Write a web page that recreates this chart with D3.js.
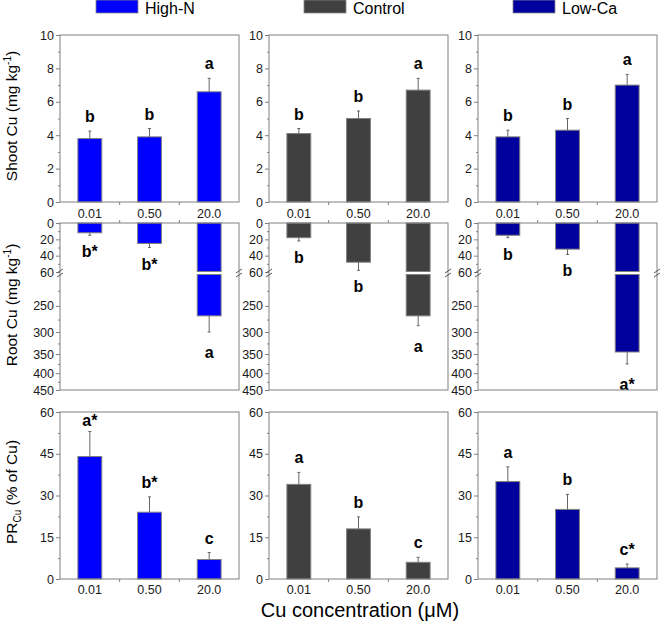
<!DOCTYPE html>
<html>
<head>
<meta charset="utf-8">
<script src="https://cdn.jsdelivr.net/npm/d3@7/dist/d3.min.js"></script>
<style>
  body { margin: 0; background: #fff; }
  svg { display: block; font-family: "Liberation Sans", Arial, sans-serif; }
</style>
</head>
<body>
<svg id="chart" width="660" height="628"></svg>
<script>
// ---------- data ----------
const concentrations = ["0.01", "0.50", "20.0"];
const treatments = ["High-N", "Control", "Low-Ca"];
const treatmentColors = ["#0000ff", "#404040", "#00009c"];

const shootMean = [[3.8, 3.9, 6.6], [4.1, 5.0, 6.7], [3.9, 4.3, 7.0]];
const shootErr  = [[0.45, 0.5, 0.8], [0.3, 0.45, 0.7], [0.4, 0.7, 0.64]];
const shootLetters = [["b", "b", "a"], ["b", "b", "a"], ["b", "b", "a"]];

const rootMean = [[12, 25, 268], [18, 48, 268], [15, 32, 345]];
const rootErr  = [[3, 5, 32], [4, 10, 19], [3, 6.5, 30]];
const rootLetters = [["b*", "b*", "a"], ["b", "b", "a"], ["b", "b", "a*"]];

const prMean = [[44, 24, 7], [34, 18, 6], [35, 25, 4]];
const prErr  = [[9, 5.5, 2.5], [4.3, 4.3, 1.8], [5.3, 5.4, 1.4]];
const prLetters = [["a*", "b*", "c"], ["a", "b", "c"], ["a", "b", "c*"]];

const shootTicks = [0, 2, 4, 6, 8, 10];
const rootTicksUpper = [0, 20, 40, 60];
const rootTicksLower = [250, 300, 350, 400, 450];
const prTicks = [0, 15, 30, 45, 60];

// ---------- layout ----------
const svg = d3.select("#chart");
const panelLeft = [60, 269, 478];
const panelW = 179;
const shootTop = 35, shootBottom = 202;
const rootTop = 223, rootBreakA = 272, rootBreakB = 274, rootBottom = 390;
const prTop = 412, prBottom = 579;
const frameColor = "#808080";
const textColor = "#1a1a1a";
const tickFont = 12.5;

function band(i) {
  return d3.scaleBand().domain(concentrations)
    .range([panelLeft[i], panelLeft[i] + panelW]).paddingInner(0.6).paddingOuter(0.3);
}

function styleAxis(g) {
  g.select(".domain").remove();
  g.selectAll("line").attr("stroke", frameColor);
  g.selectAll("text").attr("fill", textColor).attr("font-size", tickFont);
}

function frame(x, y0, y1) {
  svg.append("rect").attr("x", x).attr("y", y0).attr("width", panelW).attr("height", y1 - y0)
    .attr("fill", "none").attr("stroke", frameColor).attr("stroke-width", 1);
}

function drawXTicks(i, xs, yPos, dir, withLabels, pad) {
  const centers = concentrations.map(c => xs(c) + xs.bandwidth() / 2);
  const mids = [(centers[0] + centers[1]) / 2, (centers[1] + centers[2]) / 2];
  svg.selectAll(null).data(mids).enter().append("line")
    .attr("x1", d => d).attr("x2", d => d).attr("y1", yPos).attr("y2", yPos + dir * 3)
    .attr("stroke", frameColor);
  if (withLabels) {
    const ax = svg.append("g").attr("transform", `translate(0,${yPos})`)
      .call(d3.axisBottom(xs).tickSize(0).tickPadding(pad));
    styleAxis(ax);
  }
}

function errorBar(x, y0, y1) {
  svg.append("line").attr("x1", x).attr("x2", x).attr("y1", y0).attr("y2", y1)
    .attr("stroke", "#666").attr("stroke-width", 1);
  svg.append("line").attr("x1", x - 1.5).attr("x2", x + 1.5).attr("y1", y1).attr("y2", y1)
    .attr("stroke", "#666").attr("stroke-width", 1);
}

function letter(x, y, t) {
  svg.append("text").attr("x", x).attr("y", y).attr("text-anchor", "middle")
    .attr("font-size", 16).attr("font-weight", "bold").attr("fill", "#000").text(t);
}

// ---------- legend ----------
const legendX = [96, 304, 513];
treatments.forEach((t, i) => {
  svg.append("rect").attr("x", legendX[i]).attr("y", 0).attr("width", 42).attr("height", 13)
    .attr("fill", treatmentColors[i]).attr("stroke", "#888").attr("stroke-width", 0.8);
  svg.append("text").attr("x", legendX[i] + 49).attr("y", 14).attr("font-size", 16)
    .attr("fill", "#000").text(t);
});

// ---------- panels ----------
treatments.forEach((t, i) => {
  const xs = band(i);
  const left = panelLeft[i];
  const bw = xs.bandwidth();
  const color = treatmentColors[i];

  // ---- Shoot ----
  const ys = d3.scaleLinear().domain([0, 10]).range([shootBottom, shootTop]);
  const ax1 = svg.append("g").attr("transform", `translate(${left},0)`)
    .call(d3.axisLeft(ys).tickValues(shootTicks).tickSize(4).tickPadding(2));
  styleAxis(ax1);
  const ax1m = svg.append("g").attr("transform", `translate(${left},0)`)
    .call(d3.axisLeft(ys).tickValues([1, 3, 5, 7, 9]).tickSize(2).tickFormat(""));
  styleAxis(ax1m);
  concentrations.forEach((c, j) => {
    const x = xs(c), cx = x + bw / 2;
    svg.append("rect").attr("x", x).attr("y", ys(shootMean[i][j])).attr("width", bw)
      .attr("height", ys(0) - ys(shootMean[i][j])).attr("fill", color)
      .attr("stroke", "#808080").attr("stroke-width", 1);
    const eTop = ys(shootMean[i][j] + shootErr[i][j]);
    errorBar(cx, ys(shootMean[i][j]), eTop);
    letter(cx, eTop - 9, shootLetters[i][j]);
  });
  frame(left, shootTop, shootBottom);
  drawXTicks(i, xs, shootBottom, 1, true, 7);

  // ---- Root (broken axis: linear upper, log lower) ----
  const yrU = d3.scaleLinear().domain([0, 60]).range([rootTop, rootBreakA]);
  const yrL = d3.scaleLog().domain([200, 450]).range([rootBreakB, rootBottom]);
  const yr = v => v <= 60 ? yrU(v) : yrL(v);
  const ax2 = svg.append("g").attr("transform", `translate(${left},0)`)
    .call(d3.axisLeft(yrU).tickValues(rootTicksUpper).tickSize(4).tickPadding(2));
  styleAxis(ax2);
  const ax2m = svg.append("g").attr("transform", `translate(${left},0)`)
    .call(d3.axisLeft(yrU).tickValues([10, 30, 50]).tickSize(2).tickFormat(""));
  styleAxis(ax2m);
  const ax3 = svg.append("g").attr("transform", `translate(${left},0)`)
    .call(d3.axisLeft(yrL).tickValues(rootTicksLower).tickSize(4).tickPadding(2).tickFormat(d3.format("d")));
  styleAxis(ax3);
  const ax3m = svg.append("g").attr("transform", `translate(${left},0)`)
    .call(d3.axisLeft(yrL).tickValues([225, 275, 325, 375, 425]).tickSize(2).tickFormat(""));
  styleAxis(ax3m);
  concentrations.forEach((c, j) => {
    const x = xs(c), cx = x + bw / 2;
    const v = rootMean[i][j];
    if (v <= 60) {
      svg.append("rect").attr("x", x).attr("y", rootTop).attr("width", bw)
        .attr("height", yr(v) - rootTop).attr("fill", color)
        .attr("stroke", "#808080").attr("stroke-width", 1);
    } else {
      svg.append("rect").attr("x", x).attr("y", rootTop).attr("width", bw)
        .attr("height", rootBreakA - 0.5 - rootTop).attr("fill", color)
        .attr("stroke", "#808080").attr("stroke-width", 1);
      svg.append("rect").attr("x", x).attr("y", rootBreakB + 0.5).attr("width", bw)
        .attr("height", yr(v) - rootBreakB - 0.5).attr("fill", color)
        .attr("stroke", "#808080").attr("stroke-width", 1);
    }
    const eEnd = yr(v + rootErr[i][j]);
    errorBar(cx, yr(v), eEnd);
    letter(cx, eEnd + (v > 60 ? 26 : 22), rootLetters[i][j]);
  });
  frame(left, rootTop, rootBottom);
  drawXTicks(i, xs, rootTop, -1, false, 0);
  [left, left + panelW].forEach(bx => {
    [rootBreakA - 1, rootBreakB + 1].forEach(by => {
      svg.append("line").attr("x1", bx - 3).attr("x2", bx + 3).attr("y1", by + 2).attr("y2", by - 2)
        .attr("stroke", "#555").attr("stroke-width", 1);
    });
  });

  // ---- PR ----
  const yp = d3.scaleLinear().domain([0, 60]).range([prBottom, prTop]);
  const ax4 = svg.append("g").attr("transform", `translate(${left},0)`)
    .call(d3.axisLeft(yp).tickValues(prTicks).tickSize(4).tickPadding(2));
  styleAxis(ax4);
  const ax4m = svg.append("g").attr("transform", `translate(${left},0)`)
    .call(d3.axisLeft(yp).tickValues([7.5, 22.5, 37.5, 52.5]).tickSize(2).tickFormat(""));
  styleAxis(ax4m);
  concentrations.forEach((c, j) => {
    const x = xs(c), cx = x + bw / 2;
    svg.append("rect").attr("x", x).attr("y", yp(prMean[i][j])).attr("width", bw)
      .attr("height", yp(0) - yp(prMean[i][j])).attr("fill", color)
      .attr("stroke", "#808080").attr("stroke-width", 1);
    const eTop = yp(prMean[i][j] + prErr[i][j]);
    errorBar(cx, yp(prMean[i][j]), eTop);
    letter(cx, Math.max(eTop - 9, prTop + 14), prLetters[i][j]);
  });
  frame(left, prTop, prBottom);
  drawXTicks(i, xs, prBottom, 1, true, 6);
});

// ---------- axis titles ----------
function yTitle(cy, build) {
  const t = svg.append("text").attr("transform", `translate(17,${cy}) rotate(-90)`)
    .attr("text-anchor", "middle").attr("font-size", 15.5).attr("fill", "#000");
  build(t);
}
yTitle(116, t => {
  t.append("tspan").text("Shoot Cu (mg kg");
  t.append("tspan").attr("font-size", 10).attr("dy", -6).text("-1");
  t.append("tspan").attr("dy", 6).text(")");
});
yTitle(305, t => {
  t.append("tspan").text("Root Cu (mg kg");
  t.append("tspan").attr("font-size", 10).attr("dy", -6).text("-1");
  t.append("tspan").attr("dy", 6).text(")");
});
yTitle(492, t => {
  t.append("tspan").text("PR");
  t.append("tspan").attr("font-size", 10).attr("dy", 4).text("Cu");
  t.append("tspan").attr("dy", -4).text(" (% of Cu)");
});

svg.append("text").attr("x", 360).attr("y", 617).attr("text-anchor", "middle")
  .attr("font-size", 20).attr("fill", "#000").text("Cu concentration (μM)");
</script>
</body>
</html>
